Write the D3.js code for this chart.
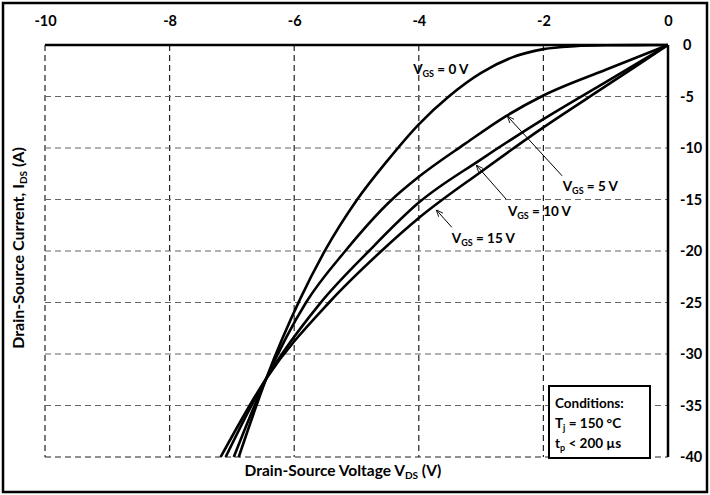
<!DOCTYPE html>
<html>
<head>
<meta charset="utf-8">
<script src="https://cdn.jsdelivr.net/npm/d3@7"></script>
<style>
  body { margin: 0; background: #fff; }
  text { font-family: Lato, "Open Sans", sans-serif; font-weight: bold; fill: #000; }
</style>
</head>
<body>
<div id="chart"></div>
<script>
// Width and height
var chart_width  = 710;
var chart_height = 495;

// Data (V_DS in volts, I_DS in amps)
var vgs0V  = [0, -0.5, -1, -1.5, -2, -2.5, -3, -3.5, -4, -4.5, -5, -5.5, -5.9, -6.45, -6.89];
var vgs0I  = [0, -0.01, -0.03, -0.12, -0.4, -1.2, -2.7, -4.9, -7.7, -11.2, -15.1, -19.9, -24.6, -32.4, -40];
var vgs5V  = [0, -1, -2, -2.6, -3.26, -4, -4.43, -5.18, -5.81, -6.45, -6.97];
var vgs5I  = [0, -2.4, -4.9, -6.9, -9.6, -12.8, -15, -20, -25, -32.4, -40];
var vgs10V = [0, -1, -2, -3, -4, -4.8, -5.6, -6.45, -7.1];
var vgs10I = [0, -3.6, -7.2, -11.1, -15.3, -20, -25.2, -32.4, -40];
var vgs15V = [0, -1, -2, -3, -4, -4.6, -5.44, -6.45, -7.18];
var vgs15I = [0, -4.0, -8.0, -12.3, -16.8, -20, -25, -32.4, -40];

var xTicks = [-10, -8, -6, -4, -2, 0];
var yTicks = [0, -5, -10, -15, -20, -25, -30, -35, -40];

var series = [
    { v: vgs0V,  i: vgs0I },
    { v: vgs5V,  i: vgs5I },
    { v: vgs10V, i: vgs10I },
    { v: vgs15V, i: vgs15I }
];

// annotations: label anchor and arrow (tail -> tip), in data units
var notes = [
    { vgs: "0",  lx: -4.09, ly: -2.3 },
    { vgs: "5",  lx: -1.69, ly: -13.7, ax: -1.70, ay: -12.7, tx: -2.58, ty: -6.9 },
    { vgs: "10", lx: -2.57, ly: -16.1, ax: -2.60, ay: -14.95, tx: -3.08, ty: -11.65 },
    { vgs: "15", lx: -3.47, ly: -18.7, ax: -3.47, ay: -17.7, tx: -3.72, ty: -16.0 }
];

var x = d3.scaleLinear().domain([-10, 0]).range([45, 668]);
var y = d3.scaleLinear().domain([0, -40]).range([45, 457]);

var svg = d3.select("#chart")
    .append("svg")
    .attr("width", chart_width)
    .attr("height", chart_height);

// outer frame
svg.append("rect")
    .attr("x", 3).attr("y", 3)
    .attr("width", chart_width - 6).attr("height", chart_height - 6)
    .attr("fill", "none")
    .attr("stroke", "#000")
    .attr("stroke-width", 2.5);

// grid
svg.append("g").selectAll("line")
    .data(xTicks.slice(0, -1))
    .enter().append("line")
    .attr("x1", function(d){ return x(d); })
    .attr("x2", function(d){ return x(d); })
    .attr("y1", y(0)).attr("y2", y(-40))
    .attr("stroke", "#222").attr("stroke-width", 1.2)
    .attr("stroke-dasharray", "6,4");

svg.append("g").selectAll("line")
    .data(yTicks.slice(1))
    .enter().append("line")
    .attr("x1", x(-10)).attr("x2", x(0))
    .attr("y1", function(d){ return y(d); })
    .attr("y2", function(d){ return y(d); })
    .attr("stroke", function(d){ return d === -40 ? "#222" : "#666"; })
    .attr("stroke-width", 1.2)
    .attr("stroke-dasharray", "6,4");

// top and right solid axis lines
svg.append("line")
    .attr("x1", x(-10)).attr("x2", x(0)).attr("y1", y(0)).attr("y2", y(0))
    .attr("stroke", "#000").attr("stroke-width", 2.5);
svg.append("line")
    .attr("x1", x(0)).attr("x2", x(0)).attr("y1", y(0)).attr("y2", y(-40))
    .attr("stroke", "#000").attr("stroke-width", 2.5);

// tick labels (plain hyphen minus, like the original)
var xAxis = svg.append("g")
    .attr("transform", "translate(0,29)")
    .call(d3.axisTop(x).tickValues(xTicks).tickSize(0).tickFormat(function(d){ return String(d); }));
xAxis.select(".domain").remove();
xAxis.selectAll("text").style("font-size", "14.5px").style("font-family", "Lato, sans-serif").style("font-weight", "bold");

var yAxis = svg.append("g")
    .attr("transform", "translate(677,0)")
    .call(d3.axisRight(y).tickValues(yTicks).tickSize(0).tickFormat(function(d){ return String(d); }));
yAxis.select(".domain").remove();
yAxis.selectAll("text").style("font-size", "14.5px").style("font-family", "Lato, sans-serif").style("font-weight", "bold");
yAxis.selectAll("text").filter(function(d){ return d === 0; }).attr("x", 6);

// curves
var line = d3.line()
    .x(function(d){ return x(d[0]); })
    .y(function(d){ return y(d[1]); })
    .curve(d3.curveMonotoneX);

svg.append("g").selectAll("path")
    .data(series)
    .enter().append("path")
    .attr("d", function(s){ return line(d3.zip(s.v, s.i).reverse()); })
    .attr("fill", "none")
    .attr("stroke", "#000")
    .attr("stroke-width", 2.6);

// arrow marker
svg.append("defs").append("marker")
    .attr("id", "arr")
    .attr("viewBox", "0 0 10 10")
    .attr("refX", 10).attr("refY", 5)
    .attr("markerWidth", 7).attr("markerHeight", 7)
    .attr("orient", "auto")
    .append("path")
    .attr("d", "M0,1 L10,5 L0,9")
    .attr("fill", "none")
    .attr("stroke", "#000")
    .attr("stroke-width", 1.2);

svg.append("g").selectAll("line")
    .data(notes.filter(function(n){ return n.ax !== undefined; }))
    .enter().append("line")
    .attr("x1", function(n){ return x(n.ax); })
    .attr("y1", function(n){ return y(n.ay); })
    .attr("x2", function(n){ return x(n.tx); })
    .attr("y2", function(n){ return y(n.ty); })
    .attr("stroke", "#000").attr("stroke-width", 1)
    .attr("marker-end", "url(#arr)");

var lab = svg.append("g").selectAll("text")
    .data(notes)
    .enter().append("text")
    .attr("x", function(n){ return x(n.lx); })
    .attr("y", function(n){ return y(n.ly) + 5; })
    .style("font-size", "13.5px");
lab.append("tspan").text("V");
lab.append("tspan").attr("dy", 3).style("font-size", "9px").text("GS");
lab.append("tspan").attr("dy", -3).text(function(n){ return " = " + n.vgs + " V"; });

// conditions box
svg.append("rect")
    .attr("x", 549).attr("y", 386)
    .attr("width", 101).attr("height", 72)
    .attr("fill", "#fff")
    .attr("stroke", "#000").attr("stroke-width", 2);

var cond = svg.append("g").style("font-size", "13.5px");
cond.append("text").attr("x", 555).attr("y", 408).text("Conditions:");
var t1 = cond.append("text").attr("x", 555).attr("y", 428);
t1.append("tspan").text("T");
t1.append("tspan").attr("dy", 3).style("font-size", "9px").text("j");
t1.append("tspan").attr("dy", -3).text(" = 150 °C");
var t2 = cond.append("text").attr("x", 555).attr("y", 448);
t2.append("tspan").text("t");
t2.append("tspan").attr("dy", 3).style("font-size", "9px").text("p");
t2.append("tspan").attr("dy", -3).text(" < 200 µs");

// axis titles
var xt = svg.append("text")
    .attr("x", 343).attr("y", 476)
    .attr("text-anchor", "middle")
    .style("font-size", "15.5px");
xt.append("tspan").text("Drain-Source Voltage V");
xt.append("tspan").attr("dy", 3).style("font-size", "10px").text("DS");
xt.append("tspan").attr("dy", -3).text(" (V)");

var yt = svg.append("text")
    .attr("transform", "translate(24,248) rotate(-90)")
    .attr("text-anchor", "middle")
    .style("font-size", "16px");
yt.append("tspan").text("Drain-Source Current, I");
yt.append("tspan").attr("dy", 3).style("font-size", "10px").text("DS");
yt.append("tspan").attr("dy", -3).text(" (A)");
</script>
</body>
</html>
